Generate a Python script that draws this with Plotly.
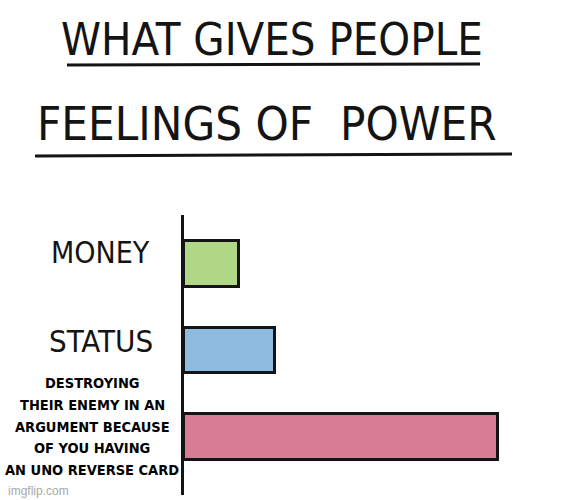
import plotly.graph_objects as go

# ---- data ----
categories = ["MONEY", "STATUS", "DESTROYING"]
values = [17.5, 29, 100]
bar_colors = ["#b0d785", "#90bbe0", "#d87b95"]
label_lines = [
    ["MONEY"],
    ["STATUS"],
    ["DESTROYING", "THEIR ENEMY IN AN", "ARGUMENT BECAUSE", "OF YOU HAVING", "AN UNO REVERSE CARD"],
]
title_line1 = "WHAT GIVES PEOPLE"
title_line2 = "FEELINGS OF\u00a0\u00a0POWER"

W, H = 564, 500
ML, MR, MT, MB = 184, 0, 215, 5
PW, PH = W - ML - MR, H - MT - MB


def px_x(x):
    return (x - ML) / PW


def px_y(y):
    return (H - MB - y) / PH


NARROW = "DejaVu Sans Condensed, Liberation Sans Narrow, sans-serif"
INK = "#141414"

fig = go.Figure(
    go.Bar(
        x=values,
        y=categories,
        orientation="h",
        width=0.53,
        marker=dict(color=bar_colors, line=dict(color=INK, width=3)),
        hoverinfo="skip",
    )
)

annotations = []
label_fonts = [
    dict(family=NARROW, size=30, color=INK),
    dict(family=NARROW, size=31, color=INK),
    dict(family=NARROW, size=14.5, color="#000000", weight="bold",
         shadow="1px 1px 1px #ffffff, -1px -1px 1px #ffffff"),
]
label_x = [100, 101, 92]
label_shift = [11, 10, 10.5]
line_pitch = 21.7
for cat, lines, f, lx, ys in zip(categories, label_lines, label_fonts, label_x, label_shift):
    n = len(lines)
    for i, ln in enumerate(lines):
        off = ys + ((n - 1) / 2 - i) * line_pitch
        annotations.append(
            dict(
                text=ln, x=px_x(lx), xref="paper", y=cat, yref="y",
                xanchor="center", yanchor="middle", showarrow=False,
                align="center", font=f, yshift=off,
            )
        )

annotations.append(
    dict(text=title_line1, x=px_x(272), xref="paper", y=px_y(39), yref="paper",
         xanchor="center", yanchor="middle", showarrow=False,
         font=dict(family=NARROW, size=45, color=INK))
)
annotations.append(
    dict(text=title_line2, x=px_x(267), xref="paper", y=px_y(123), yref="paper",
         xanchor="center", yanchor="middle", showarrow=False,
         font=dict(family=NARROW, size=47, color=INK))
)
annotations.append(
    dict(text="imgflip.com", x=px_x(6), xref="paper", y=px_y(491), yref="paper",
         xanchor="left", yanchor="middle", showarrow=False,
         font=dict(family="Liberation Sans, Arial, sans-serif", size=12, color="#a8a8a8"))
)

shapes = [
    dict(type="line", xref="paper", yref="paper",
         x0=px_x(67), x1=px_x(480), y0=px_y(65), y1=px_y(64),
         line=dict(color=INK, width=3)),
    dict(type="line", xref="paper", yref="paper",
         x0=px_x(35), x1=px_x(512), y0=px_y(156), y1=px_y(154),
         line=dict(color=INK, width=3)),
]

fig.update_layout(
    width=W, height=H,
    margin=dict(l=ML, r=MR, t=MT, b=MB, pad=0),
    paper_bgcolor="white", plot_bgcolor="white",
    showlegend=False,
    bargap=0,
    xaxis=dict(range=[0, 121], showgrid=False, zeroline=False,
               showticklabels=False, ticks="", showline=False, fixedrange=True),
    yaxis=dict(range=[2.67, -0.566], showgrid=False, zeroline=False,
               showticklabels=False, ticks="", showline=True,
               linecolor=INK, linewidth=3, fixedrange=True),
    annotations=annotations,
    shapes=shapes,
)

fig.write_html(
    "out.html",
    config={"displayModeBar": False},
    post_script="document.body.style.margin='0';document.body.style.overflow='hidden';",
)
